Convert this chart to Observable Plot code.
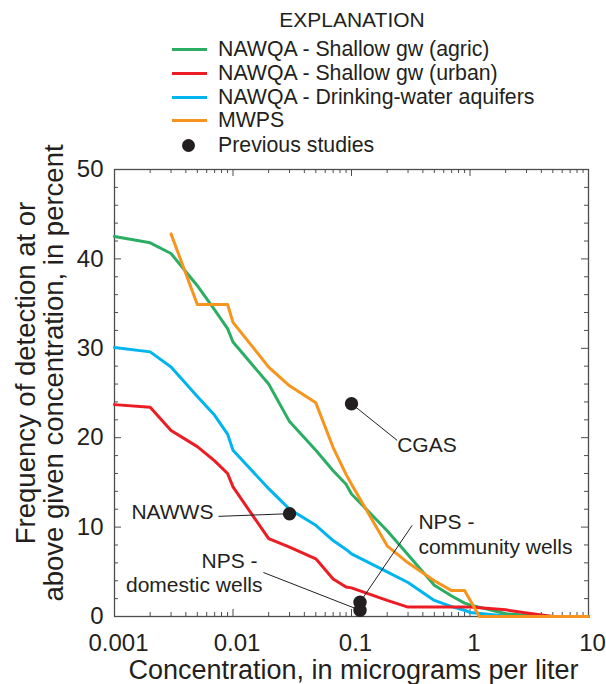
<!DOCTYPE html>
<html>
<head>
<meta charset="utf-8">
<script src="https://cdn.jsdelivr.net/npm/d3@7"></script>
<script src="https://cdn.jsdelivr.net/npm/@observablehq/plot@0.6"></script>
<style>
  body { margin: 0; background: #fff; }
  #wrap { width: 606px; font-family: "Liberation Sans", Arial, sans-serif; color: #231f20; }
  #legend { position: relative; width: 606px; height: 150px; }
  #legend .t { position: absolute; white-space: nowrap; }
  #legend .ln { position: absolute; height: 3px; width: 35px; }
  #legend .dot { position: absolute; width: 13px; height: 13px; border-radius: 50%; background: #231f20; }
</style>
</head>
<body>
<div id="wrap">
  <div id="legend"></div>
  <div id="chart"></div>
</div>
<script>
// ---------- data ----------
const seriesNames = [
  "NAWQA - Shallow gw (agric)",
  "NAWQA - Shallow gw (urban)",
  "NAWQA - Drinking-water aquifers",
  "MWPS"
];
const seriesColors = ["#2bae64", "#ec1c24", "#00b5ef", "#f7941d"];

const agricConc = [0.001,0.002,0.003,0.005,0.007,0.009,0.01,0.02,0.03,0.05,0.07,0.09,0.1,0.2,0.3,0.5,0.7,0.9,1,2,3,5,10];
const agricPct  = [42.5,41.8,40.6,37.0,34.3,32.2,30.7,26.0,21.8,18.6,16.3,14.8,13.7,9.6,6.9,3.5,2.3,1.5,1.3,0.3,0.15,0,0];

const urbanConc = [0.001,0.002,0.003,0.005,0.007,0.009,0.01,0.02,0.03,0.05,0.07,0.09,0.1,0.2,0.3,0.5,0.7,0.9,1,2,3,5,10];
const urbanPct  = [23.7,23.4,20.8,19.0,17.4,16.0,14.5,8.7,7.75,6.45,4.2,3.3,3.2,1.8,1.05,1.05,1.05,1.05,1.05,0.75,0.4,0,0];

const dwConc = [0.001,0.002,0.003,0.005,0.007,0.009,0.01,0.02,0.03,0.05,0.07,0.09,0.1,0.2,0.3,0.5,0.7,0.9,1,2,3,5,10];
const dwPct  = [30.1,29.6,27.9,24.6,22.5,20.4,18.6,14.3,12.0,10.2,8.5,7.5,7.0,5.0,3.8,1.8,1.1,0.7,0.45,0.05,0,0,0];

const mwpsConc = [0.003,0.005,0.007,0.009,0.01,0.02,0.03,0.05,0.07,0.09,0.1,0.2,0.3,0.5,0.7,0.9,1.2,10];
const mwpsPct  = [42.8,34.9,34.9,34.9,32.9,27.9,25.8,23.9,18.9,15.9,14.8,7.9,6.0,4.0,2.9,2.9,0,0];

// previous studies (points)
const studyNames = ["CGAS", "NAWWS", "NPS - community wells", "NPS - domestic wells"];
const studyConc  = [0.1, 0.03, 0.118, 0.118];
const studyPct   = [23.8, 11.5, 1.6, 0.7];

// annotation labels
const labelText   = ["CGAS", "NAWWS", "NPS -", "domestic wells", "NPS -", "community wells"];
const labelConc   = [0.243, 0.00684, 0.0161, 0.01774, 0.367, 0.367];
const labelPct    = [19.2, 11.63, 6.15, 3.47, 10.55, 7.75];
const labelAnchor = ["start", "end", "end", "end", "start", "start"];

// leader lines
const leaderFromConc = [0.243, 0.00755, 0.01807, 0.325];
const leaderFromPct  = [19.7, 11.2, 4.92, 10.2];
const leaderToConc   = [0.1, 0.03, 0.118, 0.118];
const leaderToPct    = [23.8, 11.5, 0.7, 1.6];

// axes
const xTickValues = [0.001, 0.01, 0.1, 1, 10];
const xTickLabels = ["0.001", "0.01", "0.1", "1", "10"];
const yTickValues = [0, 10, 20, 30, 40, 50];
const xLabel = "Concentration, in micrograms per liter";
const yLabel1 = "Frequency of detection at or";
const yLabel2 = "above given concentration, in percent";
const legendTitle = "EXPLANATION";
const pointLegend = "Previous studies";

// ---------- build ----------
const series = [
  {name: seriesNames[0], color: seriesColors[0], conc: agricConc, pct: agricPct},
  {name: seriesNames[1], color: seriesColors[1], conc: urbanConc, pct: urbanPct},
  {name: seriesNames[2], color: seriesColors[2], conc: dwConc, pct: dwPct},
  {name: seriesNames[3], color: seriesColors[3], conc: mwpsConc, pct: mwpsPct}
];
const rows = s => s.conc.map((c, i) => ({c, v: s.pct[i]}));
const studies = studyNames.map((n, i) => ({n, c: studyConc[i], v: studyPct[i]}));
const labels = labelText.map((t, i) => ({t, c: labelConc[i], v: labelPct[i], a: labelAnchor[i]}));
const leaders = leaderFromConc.map((c, i) => ({c1: c, v1: leaderFromPct[i], c2: leaderToConc[i], v2: leaderToPct[i]}));

const xMajor = xTickValues;
const xMinor = [];
for (let e = -3; e < 1; e++) for (let k = 2; k <= 9; k++) xMinor.push(k * Math.pow(10, e));
const yMinor = d3.range(0, 51, 2).filter(d => d % 10 !== 0);

const W = 606, H = 534, mT = 19, mB = 68, mL = 114, mR = 18;
const iW = W - mL - mR, iH = H - mT - mB;
const axisColor = "#4d4d4d";
const majLen = 7, minLen = 4;

// legend (HTML)
const leg = document.getElementById("legend");
function add(html) { leg.insertAdjacentHTML("beforeend", html); }
add(`<div class="t" style="left:252px;width:200px;text-align:center;top:8px;font-size:21px;line-height:24px">${legendTitle}</div>`);
const rowY = [49, 73, 97, 120];
series.forEach((s, i) => {
  add(`<div class="ln" style="left:172px;top:${rowY[i] - 1.5}px;background:${s.color}"></div>`);
  add(`<div class="t" style="left:218px;top:${rowY[i] - 12}px;font-size:21.3px;line-height:24px">${s.name}</div>`);
});
add(`<div class="dot" style="left:181.5px;top:138.5px"></div>`);
add(`<div class="t" style="left:218px;top:${145 - 12}px;font-size:21.3px;line-height:24px">${pointLegend}</div>`);

const chart = Plot.plot({
  width: W, height: H,
  marginTop: mT, marginBottom: mB, marginLeft: mL, marginRight: mR,
  style: {fontFamily: '"Liberation Sans", Arial, sans-serif', color: "#231f20", background: "white", overflow: "visible"},
  x: {type: "log", domain: [0.001, 10]},
  y: {domain: [0, 50]},
  marks: [
    // inward ticks
    Plot.ruleX(xMinor, {x: d => d, insetTop: iH - minLen, stroke: axisColor}),
    Plot.ruleX(xMajor, {x: d => d, insetTop: iH - majLen, stroke: axisColor}),
    Plot.ruleX(xMinor, {x: d => d, insetBottom: iH - minLen, stroke: axisColor}),
    Plot.ruleX(xMajor, {x: d => d, insetBottom: iH - majLen, stroke: axisColor}),
    Plot.ruleY(yMinor, {y: d => d, insetRight: iW - minLen, stroke: axisColor}),
    Plot.ruleY(yTickValues, {y: d => d, insetRight: iW - majLen, stroke: axisColor}),
    Plot.ruleY(yMinor, {y: d => d, insetLeft: iW - minLen, stroke: axisColor}),
    Plot.ruleY(yTickValues, {y: d => d, insetLeft: iW - majLen, stroke: axisColor}),
    Plot.frame({stroke: axisColor, strokeWidth: 1.3}),
    // tick labels
    Plot.axisX({ticks: xTickValues, tickSize: 0, tickPadding: 17, fontSize: 24, dx: 4,
      tickFormat: d => xTickLabels[xTickValues.indexOf(d)], label: null}),
    Plot.axisY({ticks: yTickValues, tickSize: 0, tickPadding: 11, fontSize: 24, label: null}),
    // axis titles
    Plot.text([xLabel], {text: d => d, frameAnchor: "bottom", lineAnchor: "middle", textAnchor: "middle", dx: 2, dy: 54, fontSize: 27}),
    Plot.text([yLabel1], {text: d => d, frameAnchor: "left", textAnchor: "middle", lineAnchor: "middle", rotate: -90, dx: -88, dy: -20, fontSize: 27.5}),
    Plot.text([yLabel2], {text: d => d, frameAnchor: "left", textAnchor: "middle", lineAnchor: "middle", rotate: -90, dx: -60, dy: -20, fontSize: 27.5}),
    // curves
    ...[2, 0, 1, 3].map(i => Plot.line(rows(series[i]), {x: "c", y: "v", stroke: series[i].color, strokeWidth: 3, strokeLinejoin: "round"})),
    // leaders
    Plot.link(leaders, {x1: "c1", y1: "v1", x2: "c2", y2: "v2", stroke: "#231f20", strokeWidth: 1}),
    // points
    Plot.dot(studies, {x: "c", y: "v", r: 6.7, fill: "#231f20"}),
    // labels
    Plot.text(labels.filter(d => d.a === "start"), {x: "c", y: "v", text: "t", textAnchor: "start", fontSize: 21, fill: "#231f20"}),
    Plot.text(labels.filter(d => d.a === "end"), {x: "c", y: "v", text: "t", textAnchor: "end", fontSize: 21, fill: "#231f20"})
  ]
});
document.getElementById("chart").appendChild(chart);
</script>
</body>
</html>
